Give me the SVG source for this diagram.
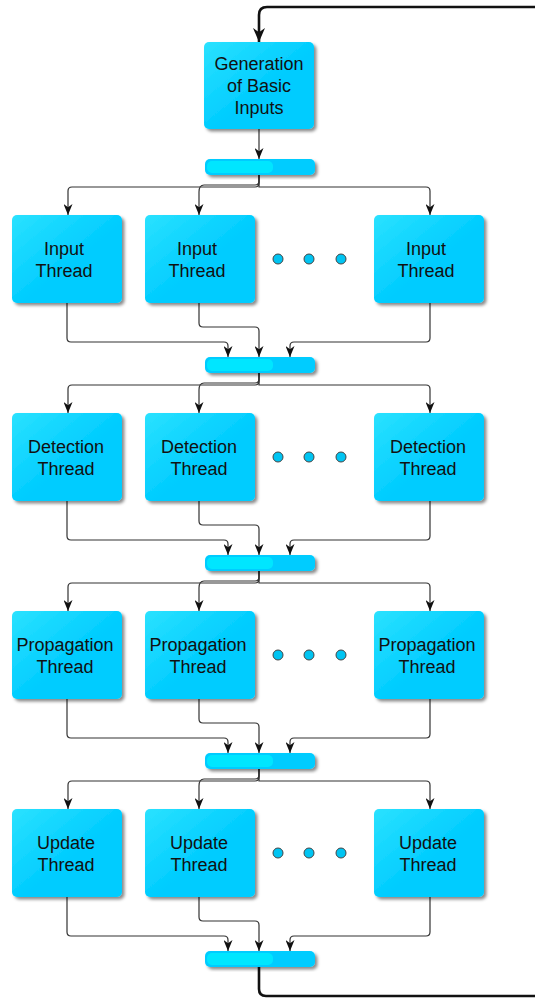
<svg xmlns="http://www.w3.org/2000/svg" xmlns:xlink="http://www.w3.org/1999/xlink" width="535" height="999" viewBox="0 0 535 999">
  <style>
    .box { fill: url(#boxFill); filter: url(#shadow); }
    .bar { fill: #00CCFF; filter: url(#shadow); }
    .gloss { fill: #00E6FF; }
    .lbl { font-family: "Liberation Sans", Arial, sans-serif; font-size: 18px; fill: #111; text-anchor: middle; }
    .dot { fill: #00C4F2; stroke: #444; stroke-width: 1; }
    .wire { fill: none; stroke: #333; stroke-width: 1.2; marker-end: url(#arrow); }
    .loop { fill: none; stroke: #111; stroke-width: 2.6; }
  </style>
  <defs>
    <linearGradient id="boxFill" x1="0" y1="0" x2="0.55" y2="0.55">
      <stop offset="0" stop-color="#2BE2FF"/>
      <stop offset="1" stop-color="#00CCFF"/>
    </linearGradient>
    <filter id="shadow" x="-10%" y="-10%" width="130%" height="140%">
      <feDropShadow dx="2.5" dy="2.5" stdDeviation="1.5" flood-color="#000" flood-opacity="0.45"/>
    </filter>
    <marker id="arrow" viewBox="0 0 10 10" refX="10" refY="5" markerUnits="userSpaceOnUse" markerWidth="11" markerHeight="9" orient="auto" preserveAspectRatio="none">
      <path d="M0,0 L10,5 L0,10 L3,5 z" fill="#111"/>
    </marker>
    <marker id="arrowBig" viewBox="0 0 10 10" refX="10" refY="5" markerUnits="userSpaceOnUse" markerWidth="14" markerHeight="12" orient="auto" preserveAspectRatio="none">
      <path d="M0,0 L10,5 L0,10 L3,5 z" fill="#111"/>
    </marker>
  </defs>

  <rect width="535" height="999" fill="#fff"/>

  <!-- connectors -->
  <g id="connectors">
    <!-- feedback loop -->
    <path class="loop" d="M535,7 H267 Q259,7 259,15 V42" marker-end="url(#arrowBig)"/>
    <path class="loop" d="M259,967 V989 Q259,996 266,996 H535"/>
    <path class="wire" d="M259,129 V159"/>

    <!-- fan-out from bars -->
    <path class="wire" d="M259,175 V183 Q259,187 255,187 H72 Q68,187 68,191 V215"/>
    <path class="wire" d="M259,175 V181 Q259,185 255,185 H204 Q199,185 199,192 V215"/>
    <path class="wire" d="M259,175 V187 H426 Q430,187 430,191 V215"/>

    <path class="wire" d="M259,373 V381 Q259,385 255,385 H72 Q68,385 68,389 V413"/>
    <path class="wire" d="M259,373 V379 Q259,383 255,383 H204 Q199,383 199,390 V413"/>
    <path class="wire" d="M259,373 V385 H426 Q430,385 430,389 V413"/>

    <path class="wire" d="M259,571 V579 Q259,583 255,583 H72 Q68,583 68,587 V611"/>
    <path class="wire" d="M259,571 V577 Q259,581 255,581 H204 Q199,581 199,588 V611"/>
    <path class="wire" d="M259,571 V583 H426 Q430,583 430,587 V611"/>

    <path class="wire" d="M259,769 V777 Q259,781 255,781 H72 Q68,781 68,785 V809"/>
    <path class="wire" d="M259,769 V775 Q259,779 255,779 H204 Q199,779 199,786 V809"/>
    <path class="wire" d="M259,769 V781 H426 Q430,781 430,785 V809"/>

    <!-- fan-in to bars -->
    <path class="wire" d="M67,303 V338 Q67,342 71,342 H224 Q228,342 228,346 V357"/>
    <path class="wire" d="M199,303 V323 Q199,327 203,327 H255 Q259,327 259,331 V357"/>
    <path class="wire" d="M430,303 V338 Q430,342 426,342 H294 Q290,342 290,346 V357"/>

    <path class="wire" d="M67,501 V536 Q67,540 71,540 H224 Q228,540 228,544 V555"/>
    <path class="wire" d="M199,501 V521 Q199,525 203,525 H255 Q259,525 259,529 V555"/>
    <path class="wire" d="M430,501 V536 Q430,540 426,540 H294 Q290,540 290,544 V555"/>

    <path class="wire" d="M67,699 V734 Q67,738 71,738 H224 Q228,738 228,742 V753"/>
    <path class="wire" d="M199,699 V719 Q199,723 203,723 H255 Q259,723 259,727 V753"/>
    <path class="wire" d="M430,699 V734 Q430,738 426,738 H294 Q290,738 290,742 V753"/>

    <path class="wire" d="M67,897 V932 Q67,936 71,936 H224 Q228,936 228,940 V951"/>
    <path class="wire" d="M199,897 V917 Q199,921 203,921 H255 Q259,921 259,925 V951"/>
    <path class="wire" d="M430,897 V932 Q430,936 426,936 H294 Q290,936 290,940 V951"/>
  </g>

  <!-- start node -->
  <g id="generation">
    <rect class="box" x="204" y="42" width="110" height="87" rx="5"/>
    <text class="lbl" x="259" y="70">Generation</text>
    <text class="lbl" x="259" y="92">of Basic</text>
    <text class="lbl" x="259" y="114">Inputs</text>
  </g>

  <!-- synchronisation bars -->
  <g id="bar1"><rect class="bar" x="205" y="159" width="110" height="16" rx="5"/><rect class="gloss" x="207" y="161" width="66" height="12" rx="5"/></g>
  <g id="bar2"><rect class="bar" x="205" y="357" width="110" height="16" rx="5"/><rect class="gloss" x="207" y="359" width="66" height="12" rx="5"/></g>
  <g id="bar3"><rect class="bar" x="205" y="555" width="110" height="16" rx="5"/><rect class="gloss" x="207" y="557" width="66" height="12" rx="5"/></g>
  <g id="bar4"><rect class="bar" x="205" y="753" width="110" height="16" rx="5"/><rect class="gloss" x="207" y="755" width="66" height="12" rx="5"/></g>
  <g id="bar5"><rect class="bar" x="205" y="951" width="110" height="16" rx="5"/><rect class="gloss" x="207" y="953" width="66" height="12" rx="5"/></g>

  <!-- input threads -->
  <g id="input1"><rect class="box" x="12" y="215" width="110" height="88" rx="5"/><text class="lbl" x="64" y="255">Input</text><text class="lbl" x="64" y="277">Thread</text></g>
  <g id="input2"><rect class="box" x="145" y="215" width="110" height="88" rx="5"/><text class="lbl" x="197" y="255">Input</text><text class="lbl" x="197" y="277">Thread</text></g>
  <g id="input3"><rect class="box" x="374" y="215" width="110" height="88" rx="5"/><text class="lbl" x="426" y="255">Input</text><text class="lbl" x="426" y="277">Thread</text></g>
  <g id="input-more"><circle class="dot" cx="278" cy="259" r="5"/><circle class="dot" cx="309" cy="259" r="5"/><circle class="dot" cx="341" cy="259" r="5"/></g>

  <!-- detection threads -->
  <g id="detect1"><rect class="box" x="12" y="413" width="110" height="88" rx="5"/><text class="lbl" x="66" y="453">Detection</text><text class="lbl" x="66" y="475">Thread</text></g>
  <g id="detect2"><rect class="box" x="145" y="413" width="110" height="88" rx="5"/><text class="lbl" x="199" y="453">Detection</text><text class="lbl" x="199" y="475">Thread</text></g>
  <g id="detect3"><rect class="box" x="374" y="413" width="110" height="88" rx="5"/><text class="lbl" x="428" y="453">Detection</text><text class="lbl" x="428" y="475">Thread</text></g>
  <g id="detect-more"><circle class="dot" cx="278" cy="457" r="5"/><circle class="dot" cx="309" cy="457" r="5"/><circle class="dot" cx="341" cy="457" r="5"/></g>

  <!-- propagation threads -->
  <g id="prop1"><rect class="box" x="12" y="611" width="110" height="88" rx="5"/><text class="lbl" x="65" y="651">Propagation</text><text class="lbl" x="65" y="673">Thread</text></g>
  <g id="prop2"><rect class="box" x="145" y="611" width="110" height="88" rx="5"/><text class="lbl" x="198" y="651">Propagation</text><text class="lbl" x="198" y="673">Thread</text></g>
  <g id="prop3"><rect class="box" x="374" y="611" width="110" height="88" rx="5"/><text class="lbl" x="427" y="651">Propagation</text><text class="lbl" x="427" y="673">Thread</text></g>
  <g id="prop-more"><circle class="dot" cx="278" cy="655" r="5"/><circle class="dot" cx="309" cy="655" r="5"/><circle class="dot" cx="341" cy="655" r="5"/></g>

  <!-- update threads -->
  <g id="update1"><rect class="box" x="12" y="809" width="110" height="88" rx="5"/><text class="lbl" x="66" y="849">Update</text><text class="lbl" x="66" y="871">Thread</text></g>
  <g id="update2"><rect class="box" x="145" y="809" width="110" height="88" rx="5"/><text class="lbl" x="199" y="849">Update</text><text class="lbl" x="199" y="871">Thread</text></g>
  <g id="update3"><rect class="box" x="374" y="809" width="110" height="88" rx="5"/><text class="lbl" x="428" y="849">Update</text><text class="lbl" x="428" y="871">Thread</text></g>
  <g id="update-more"><circle class="dot" cx="278" cy="853" r="5"/><circle class="dot" cx="309" cy="853" r="5"/><circle class="dot" cx="341" cy="853" r="5"/></g>
</svg>
